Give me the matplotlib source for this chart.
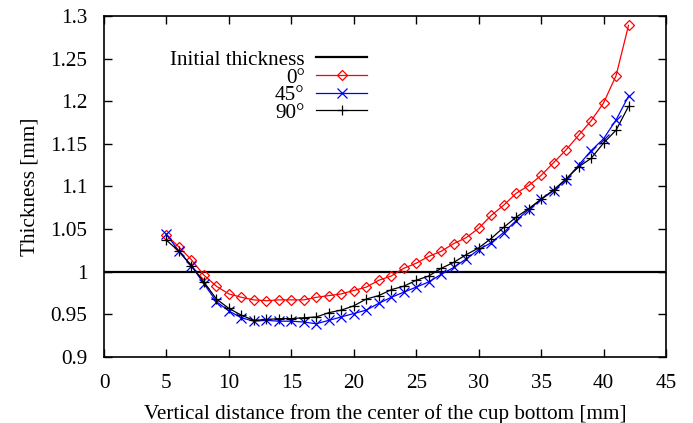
import matplotlib
matplotlib.use("Agg")
import matplotlib.pyplot as plt

distance = list(range(5, 43))

thick_0 = [1.043, 1.029, 1.014, 0.996, 0.983, 0.974, 0.970, 0.967, 0.966, 0.967,
           0.967, 0.967, 0.970, 0.972, 0.974, 0.978, 0.982, 0.990, 0.995, 1.004,
           1.010, 1.018, 1.024, 1.033, 1.040, 1.051, 1.066, 1.078, 1.092, 1.101,
           1.113, 1.128, 1.143, 1.160, 1.177, 1.198, 1.230, 1.289]

thick_45 = [1.044, 1.024, 1.007, 0.986, 0.965, 0.954, 0.946, 0.942, 0.943, 0.942,
            0.942, 0.941, 0.939, 0.943, 0.947, 0.951, 0.955, 0.963, 0.970, 0.976,
            0.982, 0.988, 0.997, 1.005, 1.015, 1.026, 1.034, 1.046, 1.060, 1.073,
            1.085, 1.095, 1.108, 1.125, 1.142, 1.156, 1.178, 1.206]

thick_90 = [1.037, 1.024, 1.007, 0.988, 0.968, 0.957, 0.949, 0.943, 0.944, 0.945,
            0.945, 0.946, 0.947, 0.952, 0.955, 0.960, 0.968, 0.972, 0.979, 0.983,
            0.990, 0.995, 1.004, 1.011, 1.020, 1.028, 1.039, 1.052, 1.064, 1.074,
            1.085, 1.096, 1.109, 1.123, 1.133, 1.151, 1.166, 1.194]

initial_thickness = 1.0
x_ticks = [0, 5, 10, 15, 20, 25, 30, 35, 40, 45]
y_ticks = [0.9, 0.95, 1.0, 1.05, 1.1, 1.15, 1.2, 1.25, 1.3]
y_ticklabels = ["0.9", "0.95", "1", "1.05", "1.1", "1.15", "1.2", "1.25", "1.3"]

plt.rcParams['font.family'] = ['Liberation Serif', 'DejaVu Serif']
plt.rcParams['font.size'] = 15.2

fig = plt.figure(figsize=(6.93, 4.23), dpi=100)
ax = fig.add_axes([104/693, 1-357/423, (666-104)/693, (357-16)/423])

ax.axhline(initial_thickness, color='black', lw=1.6, label='Initial thickness')
ax.plot(distance, thick_0, color='#ff0000', lw=0.9, marker='D', ms=4.8,
        mfc='none', mew=0.9, label='0°')
ax.plot(distance, thick_45, color='#0000ff', lw=0.9, marker='x', ms=7.5,
        mew=0.9, label='45°')
ax.plot(distance, thick_90, color='black', lw=0.9, marker='+', ms=7.5,
        mew=0.9, label='90°')

ax.set_xlim(0, 45)
ax.set_ylim(0.9, 1.3)
ax.set_xticks(x_ticks)
ax.set_yticks(y_ticks)
ax.set_yticklabels(y_ticklabels)
ax.tick_params(direction='in', length=6, width=1.0, top=True, right=True)
ax.tick_params(axis='x', pad=12)
ax.tick_params(axis='y', pad=12)
for s in ax.spines.values():
    s.set_linewidth(1.2)

ax.set_xlabel('Vertical distance from the center of the cup bottom [mm]', labelpad=8)
ax.set_ylabel('Thickness [mm]', labelpad=8)

ax.legend(loc='upper right', bbox_to_anchor=(0.468, 0.90), frameon=False,
          markerfirst=False, handlelength=2.4, handletextpad=0.55,
          labelspacing=-0.1, borderaxespad=0, borderpad=0)

fig.savefig('out.png', dpi=100)
